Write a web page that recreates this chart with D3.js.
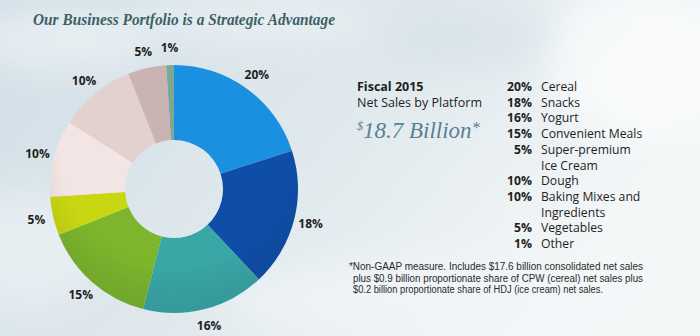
<!DOCTYPE html>
<html>
<head>
<meta charset="utf-8">
<script src="https://cdn.jsdelivr.net/npm/d3@7"></script>
<style>
  html, body { margin: 0; padding: 0; background: #e4ecf0; }
  svg { display: block; }
</style>
</head>
<body>
<svg id="canvas" width="700" height="336"></svg>
<script>
// platforms, clockwise from 12 o'clock
const platforms = ["Cereal", "Snacks", "Yogurt", "Convenient Meals", "Super-premium Ice Cream",
                   "Dough", "Baking Mixes and Ingredients", "Vegetables", "Other"];
const shares = [20, 18, 16, 15, 5, 10, 10, 5, 1];
const sliceColors = ["#1b8fe0", "#0e4ea8", "#3aa7a7", "#7db62c", "#c8d712",
                     "#f2e5e3", "#e3d1cf", "#c9b4b3", "#7fa894"];
// legend text, wrapped the way it is set
const legendLines = [["Cereal"], ["Snacks"], ["Yogurt"], ["Convenient Meals"],
                     ["Super-premium", "Ice Cream"], ["Dough"], ["Baking Mixes and", "Ingredients"],
                     ["Vegetables"], ["Other"]];
const footnote = [
  "*Non-GAAP measure. Includes $17.6 billion consolidated net sales",
  "plus $0.9 billion proportionate share of CPW (cereal) net sales plus",
  "$0.2 billion proportionate share of HDJ (ice cream) net sales."
];
const footnoteWidths = [294, 290, 250];

const svg = d3.select("#canvas");
const W = 700, H = 336;
const sans = "'Open Sans', 'Noto Sans', sans-serif";

// cloudy backdrop
const defs = svg.append("defs");
const bg = defs.append("linearGradient").attr("id", "bg")
    .attr("x1", 0).attr("y1", 0).attr("x2", 1).attr("y2", 0.4);
bg.append("stop").attr("offset", "0%").attr("stop-color", "#d1dfe7");
bg.append("stop").attr("offset", "55%").attr("stop-color", "#e0e9ed");
bg.append("stop").attr("offset", "100%").attr("stop-color", "#f4f7f8");
defs.append("filter").attr("id", "haze")
    .attr("x", "-50%").attr("y", "-50%").attr("width", "200%").attr("height", "200%")
  .append("feGaussianBlur").attr("stdDeviation", 18);

svg.append("rect").attr("width", W).attr("height", H).attr("fill", "url(#bg)");
const clouds = [[60, 40, 90, 30, "#ffffff", 0.45], [250, 20, 120, 25, "#ffffff", 0.35],
                [20, 250, 80, 60, "#f4f7f9", 0.5], [420, 300, 200, 40, "#f3f6f8", 0.6],
                [640, 60, 90, 80, "#ffffff", 0.6], [470, 40, 80, 30, "#c9d9e2", 0.35]];
svg.append("g").selectAll("ellipse").data(clouds).join("ellipse")
    .attr("cx", d => d[0]).attr("cy", d => d[1])
    .attr("rx", d => d[2]).attr("ry", d => d[3])
    .attr("fill", d => d[4]).attr("opacity", d => d[5])
    .attr("filter", "url(#haze)");

// title
svg.append("text")
    .attr("x", 33).attr("y", 25)
    .attr("textLength", 302).attr("lengthAdjust", "spacingAndGlyphs")
    .style("font-family", "'Liberation Serif', 'DejaVu Serif', serif")
    .style("font-style", "italic").style("font-weight", "bold")
    .style("font-size", "17px").attr("fill", "#3e5f68")
    .text("Our Business Portfolio is a Strategic Advantage");

// donut
const cx = 174, cy = 189, outerR = 124, innerR = 49, labelR = 141;
const pie = d3.pie().sort(null).value(d => d);
const arcs = pie(shares);
const arc = d3.arc().innerRadius(innerR).outerRadius(outerR);
const labelArc = d3.arc().innerRadius(labelR).outerRadius(labelR);

const donut = svg.append("g").attr("transform", `translate(${cx},${cy})`);
donut.selectAll("path").data(arcs).join("path")
    .attr("d", arc)
    .attr("fill", (d, i) => sliceColors[i]);

// soft shading toward the lower rim
const shade = defs.append("radialGradient").attr("id", "shade")
    .attr("cx", "50%").attr("cy", "35%").attr("r", "65%");
shade.append("stop").attr("offset", "70%").attr("stop-color", "#000").attr("stop-opacity", 0);
shade.append("stop").attr("offset", "100%").attr("stop-color", "#1a3040").attr("stop-opacity", 0.12);
donut.append("path")
    .attr("d", d3.arc().innerRadius(innerR).outerRadius(outerR)({startAngle: 0, endAngle: 2 * Math.PI}))
    .attr("fill", "url(#shade)");

donut.selectAll("text.pct").data(arcs).join("text")
    .attr("class", "pct")
    .attr("transform", d => `translate(${labelArc.centroid(d)})`)
    .attr("text-anchor", "middle").attr("dy", "0.35em")
    .style("font-family", sans).style("font-weight", "bold").style("font-size", "12px")
    .attr("fill", "#1e1e1e")
    .text(d => d.data + "%");

// heading block
const head = svg.append("g").style("font-family", sans).attr("fill", "#1e1e1e");
head.append("text").attr("x", 357).attr("y", 91)
    .style("font-weight", "bold").style("font-size", "12.5px").text("Fiscal 2015");
head.append("text").attr("x", 357).attr("y", 107)
    .style("font-size", "12.5px").text("Net Sales by Platform");
const big = svg.append("text").attr("x", 357).attr("y", 138)
    .style("font-family", "'Liberation Serif', 'DejaVu Serif', serif")
    .style("font-style", "italic").attr("fill", "#5a7f93");
big.append("tspan").style("font-size", "12px").attr("dy", "-8").text("$");
big.append("tspan").style("font-size", "23px").attr("dy", "8").text("18.7 Billion");
big.append("tspan").style("font-size", "16px").attr("dy", "-5").text("*");

// legend
const lineH = 15.7;
let row = 0;
const legend = svg.append("g").style("font-family", sans).style("font-size", "12.2px").attr("fill", "#1e1e1e");
platforms.forEach((p, i) => {
  const y = 91 + row * lineH;
  legend.append("text").attr("x", 532).attr("y", y)
      .attr("text-anchor", "end").style("font-weight", "bold")
      .text(shares[i] + "%");
  legendLines[i].forEach((ln, j) => {
    legend.append("text").attr("x", 541).attr("y", y + j * lineH).text(ln);
  });
  row += legendLines[i].length;
});

// footnote
const note = svg.append("g")
    .style("font-family", "'Liberation Sans', 'Arial', sans-serif")
    .style("font-size", "10px").attr("fill", "#2a2a2a");
footnote.forEach((ln, i) => {
  note.append("text")
      .attr("x", i === 0 ? 349 : 353).attr("y", 270 + i * 11.6)
      .attr("textLength", footnoteWidths[i]).attr("lengthAdjust", "spacingAndGlyphs")
      .text(ln);
});
</script>
</body>
</html>
